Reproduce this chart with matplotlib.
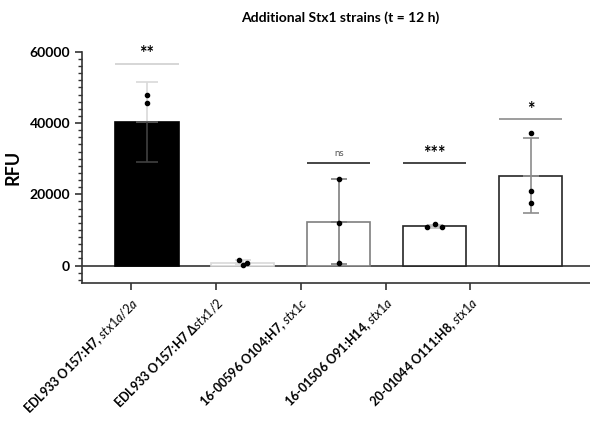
import numpy as np
import matplotlib
matplotlib.use("Agg")
import matplotlib.pyplot as plt
from matplotlib.ticker import MultipleLocator

plt.rcParams['font.family'] = ['Lato', 'DejaVu Sans']
plt.rcParams['mathtext.fontset'] = 'custom'
plt.rcParams['mathtext.it'] = 'Lato:italic'
plt.rcParams['mathtext.rm'] = 'Lato'
plt.rcParams['mathtext.bf'] = 'Lato:bold'

# data
labels = ["EDL933 O157:H7, $\\mathit{stx1a/2a}$",
          "EDL933 O157:H7 \u0394$\\mathit{stx1/2}$",
          "16-00596 O104:H7, $\\mathit{stx1c}$",
          "16-01506 O91:H14, $\\mathit{stx1a}$",
          "20-01044 O111:H8, $\\mathit{stx1a}$"]
reps = [[48000, 45600, 27300],
        [1700, 150, 700],
        [24300, 12050, 600],
        [10800, 11600, 10900],
        [37300, 20850, 17650]]
sig_text = ["**", "", "ns", "***", "*"]
sig_height = [56700, None, 28800, 28800, 41200]

# styling per bar
face = ['black', 'white', 'white', 'white', 'white']
edge = ['black', '#d9d9d9', '#7f7f7f', '#262626', '#262626']
err_up = ['#d9d9d9', '#d9d9d9', '#7f7f7f', '#bfbfbf', '#8c8c8c']
err_lo = ['#404040', '#d9d9d9', '#7f7f7f', '#bfbfbf', '#8c8c8c']
line_col = ['#d0d0d0', None, '#262626', '#262626', '#8c8c8c']
jitter = [[0, 0, 0], [-0.04, 0.0, 0.04], [0, 0, 0], [-0.075, 0, 0.075], [0, 0, 0]]

means = [np.mean(r) for r in reps]
sds = [np.std(r, ddof=1) for r in reps]
x = np.arange(len(reps))
w = 0.66

fig = plt.figure(figsize=(5.9, 4.28), dpi=100)
ax = fig.add_axes([0.139, 0.339, 0.861, 0.540])

ax.bar(x, means, width=w, color=face, edgecolor=edge, linewidth=1.2, zorder=2)
for i in range(len(reps)):
    cap = 8 if i == 0 else 6
    ax.errorbar(x[i], means[i], yerr=[[0], [sds[i]]], fmt='none', ecolor=err_up[i],
                elinewidth=1.2, capsize=cap, capthick=1.2, zorder=3)
    ax.errorbar(x[i], means[i], yerr=[[sds[i]], [0]], fmt='none', ecolor=err_lo[i],
                elinewidth=1.2, capsize=cap, capthick=1.2, zorder=3)
    ax.scatter(x[i] + np.array(jitter[i]), reps[i], s=9, color='black', zorder=4)
    if sig_height[i] is not None:
        ax.hlines(sig_height[i], x[i] - w / 2, x[i] + w / 2, color=line_col[i], lw=1.2)
        if sig_text[i] == 'ns':
            ax.text(x[i], sig_height[i] + 1500, 'ns', ha='center', va='bottom',
                    fontsize=7, color='#555555')
        else:
            ax.text(x[i], sig_height[i] + 300, sig_text[i], ha='center', va='bottom',
                    fontsize=13, fontweight='bold')

ax.axhline(0, color='#333333', lw=1.2, zorder=1)

ax.set_xlim(-0.677, 4.62)
ax.set_ylim(-4850, 60000)
ax.yaxis.set_major_locator(MultipleLocator(20000))
ax.yaxis.set_minor_locator(MultipleLocator(2000))
ax.tick_params(axis='y', which='major', length=5, width=1.2, color='#333333', labelsize=10)
ax.tick_params(axis='y', which='minor', length=3, width=1, color='#333333')
for t in ax.get_yticklabels():
    t.set_fontweight('bold')

ticks = -0.167 + np.arange(len(labels)) * 0.885
ax.set_xticks(ticks)
ax.set_xticklabels(labels, rotation=45, ha='right', rotation_mode='anchor',
                   fontsize=9, fontweight='bold')
ax.tick_params(axis='x', length=5, width=1.2, color='#333333', pad=4)

ax.set_ylabel('RFU', fontsize=13, fontweight='bold', labelpad=6)
for s in ['top', 'right']:
    ax.spines[s].set_visible(False)
for s in ['left', 'bottom']:
    ax.spines[s].set_color('#333333')
    ax.spines[s].set_linewidth(1.2)

fig.text(340 / 590, 1 - 18 / 428, 'Additional Stx1 strains (t = 12 h)', ha='center', va='center',
         fontsize=10, fontweight='bold')

fig.savefig('out.png', dpi=100)
